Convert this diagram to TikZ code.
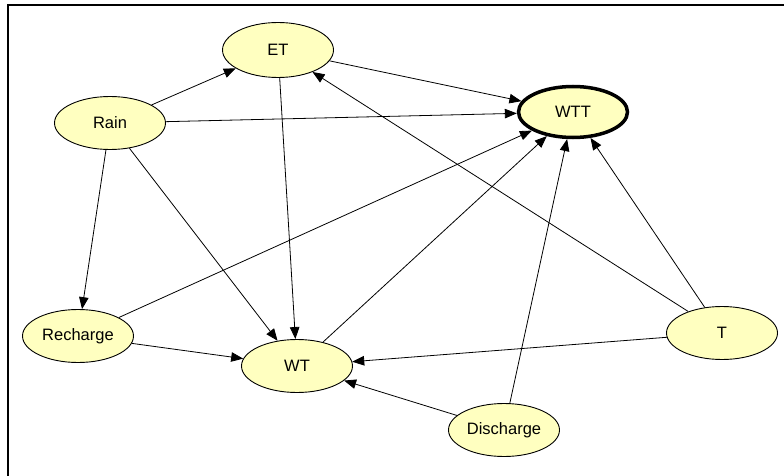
\documentclass[tikz,border=0pt]{standalone}
\usepackage{fontspec}
\setmainfont{Liberation Sans}
\usetikzlibrary{shapes.geometric,arrows.meta}
\definecolor{nodefill}{RGB}{255,255,192}
\begin{document}
\begin{tikzpicture}[x=1pt,y=-1pt,
  bnode/.style={ellipse,draw=black,line width=0.9pt,fill=nodefill,minimum width=111pt,minimum height=53pt,inner sep=0pt,font=\fontsize{16.5}{16.5}\selectfont},
  goalnode/.style={bnode,line width=3.5pt,minimum width=109pt,minimum height=51pt},
  link/.style={-{Triangle[length=12pt,width=9.5pt]},line width=0.8pt,black},
  frameline/.style={line width=2.5pt,black}]
\useasboundingbox (0,0) rectangle (784,476);
\fill[white] (0,0) rectangle (784,476);
\draw[frameline] (8,476) -- (8,5) -- (784,5);
\node[bnode,minimum height=55pt] (et) at (278,50) {ET};
\node[goalnode] (wtt) at (573,112) {WTT};
\node[bnode] (rain) at (110,123) {Rain};
\node[bnode] (recharge) at (78,336) {Recharge};
\node[bnode] (wt) at (297,366) {WT};
\node[bnode] (t) at (722,333) {T};
\node[bnode] (discharge) at (504,430) {Discharge};
\draw[link] (rain) -- (et);
\draw[link] (rain) -- (wtt);
\draw[link] (rain) -- (recharge);
\draw[link] (rain) -- (wt);
\draw[link] (et) -- (wtt);
\draw[link] (et) -- (wt);
\draw[link] (t) -- (et);
\draw[link] (t) -- (wtt);
\draw[link] (t) -- (wt);
\draw[link] (recharge) -- (wtt);
\draw[link] (recharge) -- (wt);
\draw[link] (wt) -- (wtt);
\draw[link] (discharge) -- (wtt);
\draw[link] (discharge) -- (wt);
\end{tikzpicture}
\end{document}
